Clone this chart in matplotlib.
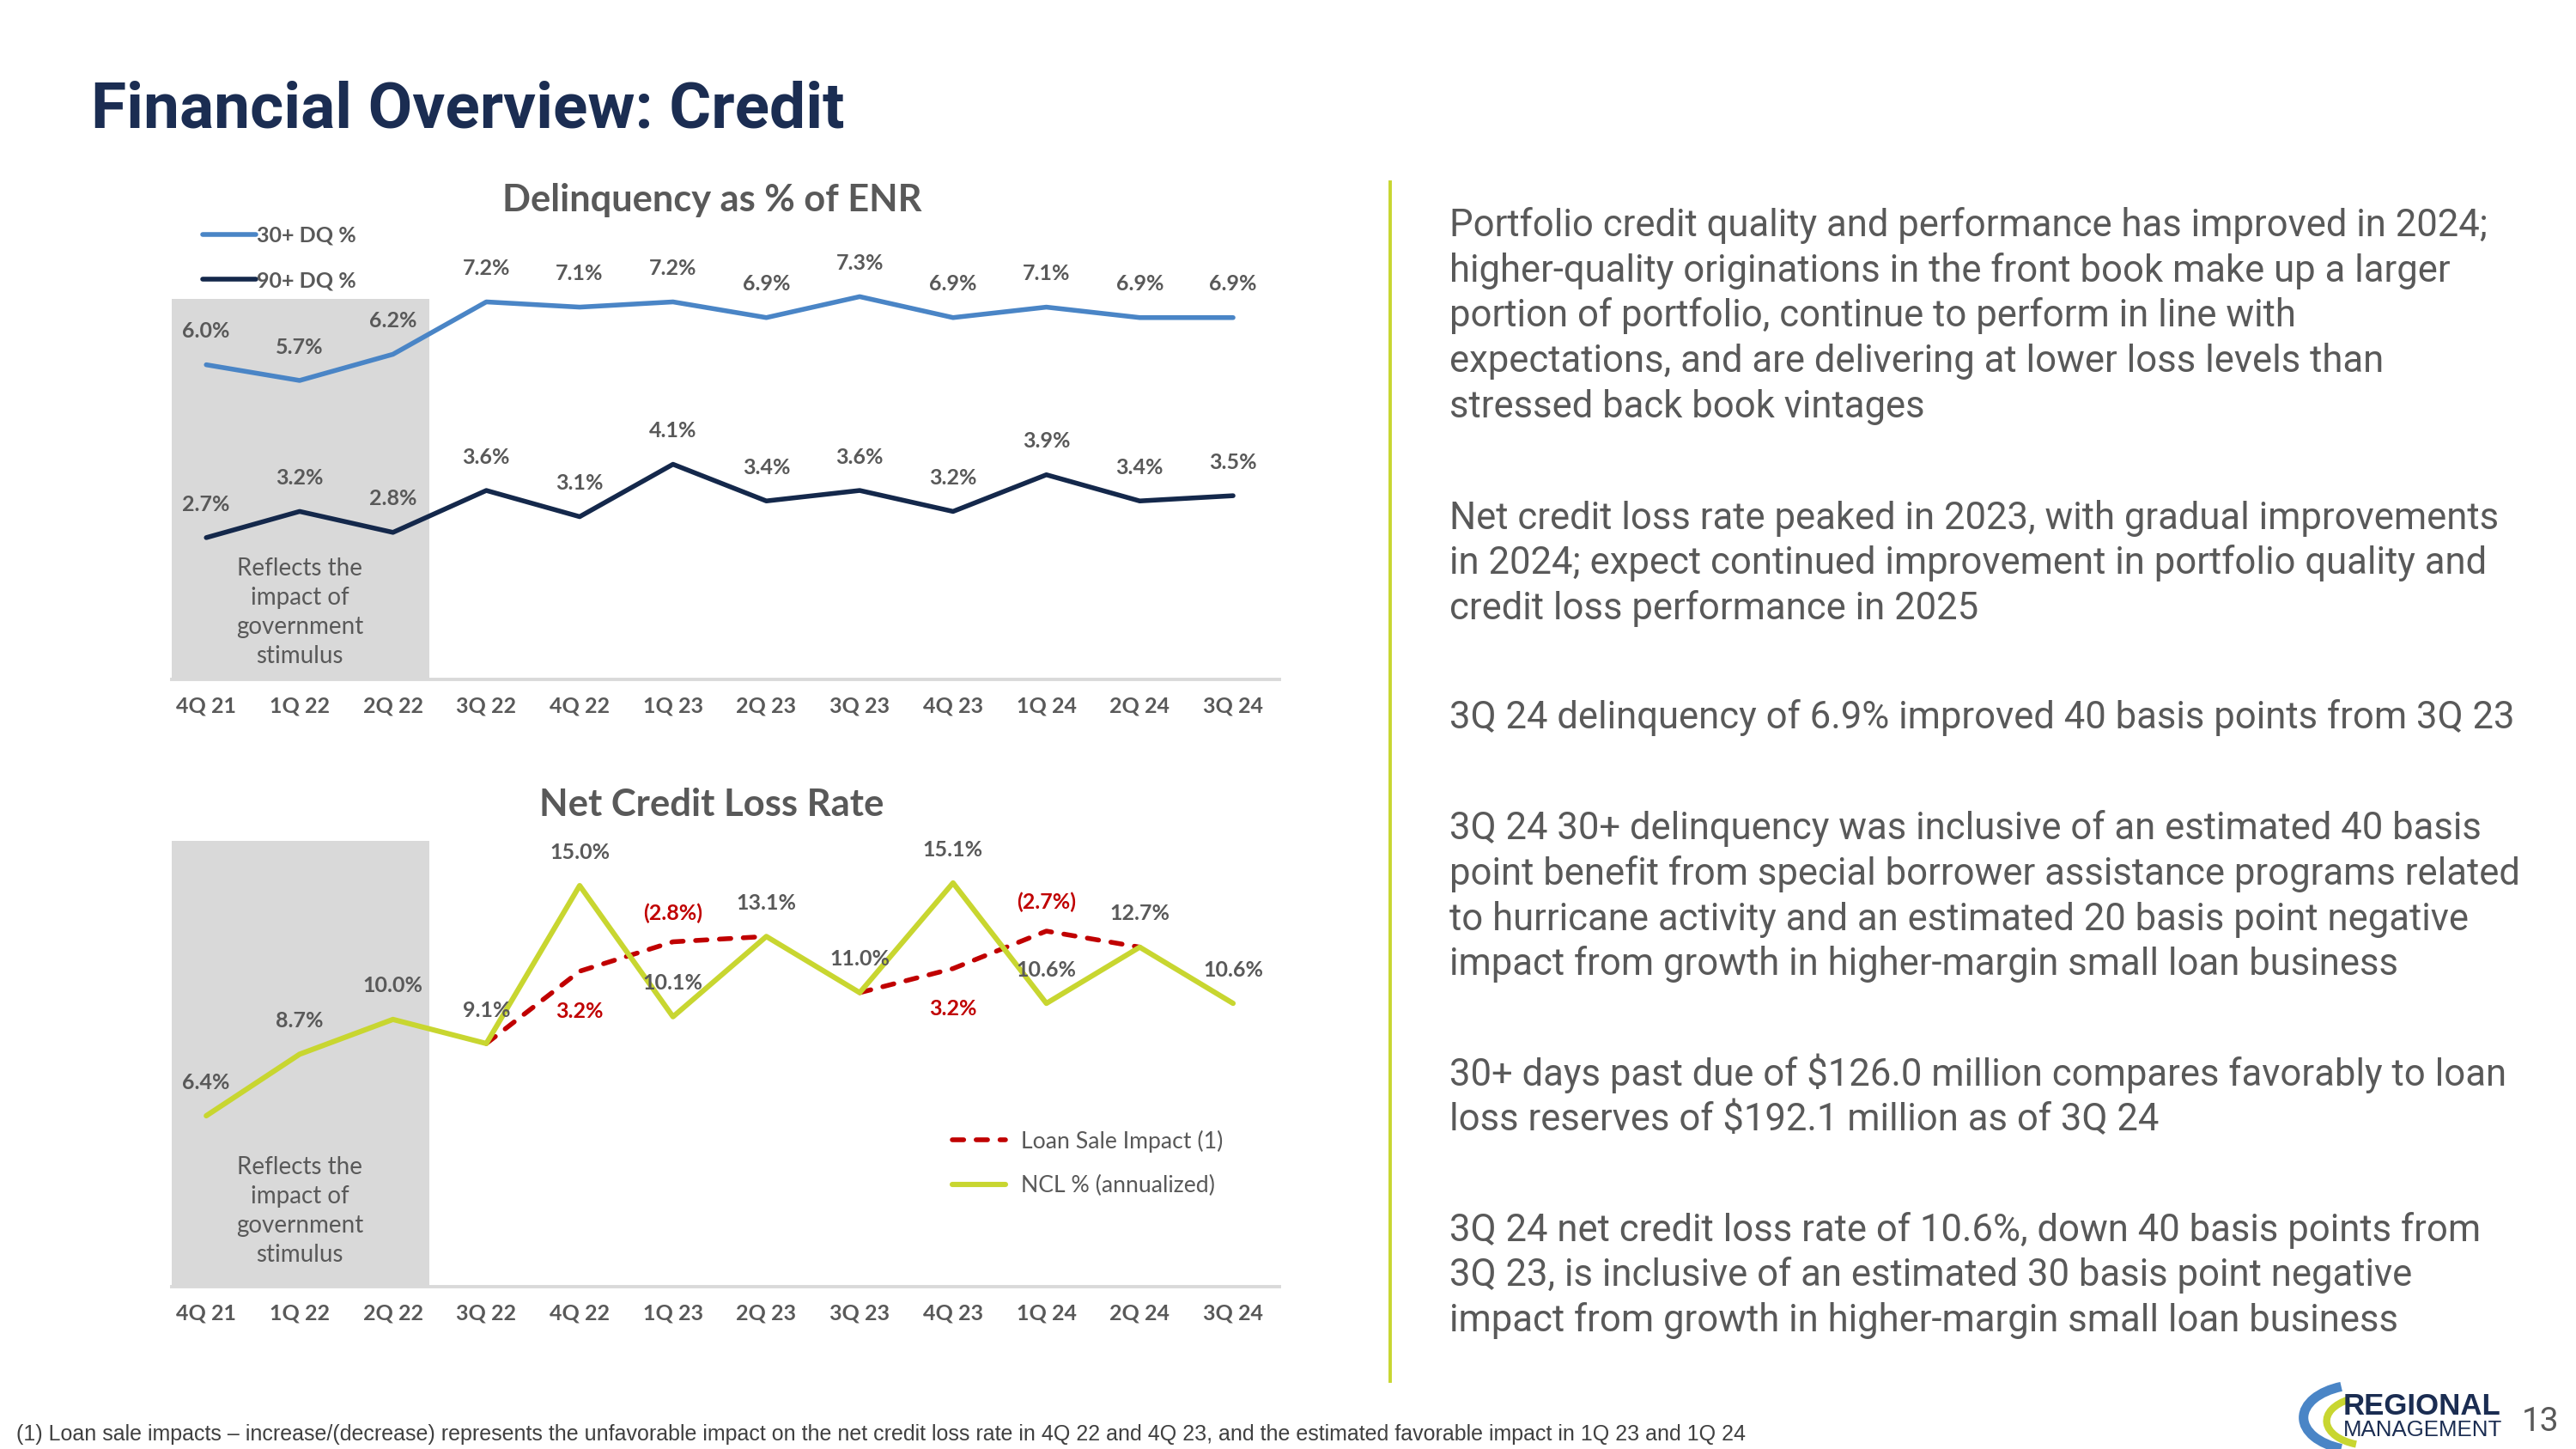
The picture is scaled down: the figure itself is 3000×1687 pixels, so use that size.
import matplotlib
matplotlib.use('Agg')
import matplotlib.pyplot as plt
from matplotlib.patches import Rectangle, Arc
import numpy as np

# ---- data ----
quarters = ['4Q 21', '1Q 22', '2Q 22', '3Q 22', '4Q 22', '1Q 23', '2Q 23', '3Q 23', '4Q 23', '1Q 24', '2Q 24', '3Q 24']
dq30 = [6.0, 5.7, 6.2, 7.2, 7.1, 7.2, 6.9, 7.3, 6.9, 7.1, 6.9, 6.9]
dq90 = [2.7, 3.2, 2.8, 3.6, 3.1, 4.1, 3.4, 3.6, 3.2, 3.9, 3.4, 3.5]
ncl = [6.4, 8.7, 10.0, 9.1, 15.0, 10.1, 13.1, 11.0, 15.1, 10.6, 12.7, 10.6]
# NCL adjusted for loan sale impact, two separate segments
adj_a = [None, None, None, 9.1, 11.8, 12.9, 13.1, None, None, None, None, None]
adj_b = [None, None, None, None, None, None, None, 11.0, 11.9, 13.3, 12.7, None]
impact_labels = {4: ('3.2%', 'below'), 5: ('(2.8%)', 'above'), 8: ('3.2%', 'below'), 9: ('(2.7%)', 'above')}

bullets = [
    ['Portfolio credit quality and performance has improved in 2024;',
     'higher-quality originations in the front book make up a larger',
     'portion of portfolio, continue to perform in line with',
     'expectations, and are delivering at lower loss levels than',
     'stressed back book vintages'],
    ['Net credit loss rate peaked in 2023, with gradual improvements',
     'in 2024; expect continued improvement in portfolio quality and',
     'credit loss performance in 2025'],
    ['3Q 24 delinquency of 6.9% improved 40 basis points from 3Q 23'],
    ['3Q 24 30+ delinquency was inclusive of an estimated 40 basis',
     'point benefit from special borrower assistance programs related',
     'to hurricane activity and an estimated 20 basis point negative',
     'impact from growth in higher-margin small loan business'],
    ['30+ days past due of $126.0 million compares favorably to loan',
     'loss reserves of $192.1 million as of 3Q 24'],
    ['3Q 24 net credit loss rate of 10.6%, down 40 basis points from',
     '3Q 23, is inclusive of an estimated 30 basis point negative',
     'impact from growth in higher-margin small loan business'],
]
bullet_tops = [136, 313, 434, 501, 650, 744]

footnote = ('(1) Loan sale impacts \u2013 increase/(decrease) represents the unfavorable impact on the net credit '
            'loss rate in 4Q 22 and 4Q 23, and the estimated favorable impact in 1Q 23 and 1Q 24')

GRAY = '#595959'
NAVY = '#14284b'
BLUE = '#4a85c6'
LIME = '#c8d630'
RED = '#c00000'
SHADE = '#d9d9d9'
CH = ['Lato', 'DejaVu Sans']
TX = ['Roboto', 'DejaVu Sans']

W, H = 1560.0, 877.0   # layout grid used for placement


def fx(x):
    return x / W


def fy(y):
    return 1 - y / H


fig = plt.figure(figsize=(15, 8.435), dpi=200)
fig.patch.set_facecolor('white')

x = np.arange(len(quarters))


def style_axis(ax, ymax):
    ax.set_xlim(-0.37, 11.5)
    ax.set_ylim(0, ymax)
    for s in ['top', 'right', 'left']:
        ax.spines[s].set_visible(False)
    ax.spines['bottom'].set_color(SHADE)
    ax.spines['bottom'].set_linewidth(1.4)
    ax.set_yticks([])
    ax.set_xticks(x)
    ax.set_xticklabels(quarters, fontsize=9, fontweight='bold', color=GRAY, family=CH)
    ax.tick_params(axis='x', length=0, pad=7)
    ax.patch.set_alpha(0)


def labels(ax, vals, dy=14, color=GRAY):
    for i, v in enumerate(vals):
        ax.annotate(f'{v:.1f}%', (i, v), xytext=(0, dy), textcoords='offset points',
                    ha='center', va='center', fontsize=9, fontweight='bold', color=color,
                    family=CH, annotation_clip=False)


stimulus = 'Reflects the\nimpact of\ngovernment\nstimulus'

# ---- top chart: delinquency ----
ax1 = fig.add_axes([fx(104), fy(411), fx(775) - fx(104), fy(141.5) - fy(411)])
style_axis(ax1, 8.5)
ax1.add_patch(Rectangle((-0.37, 0), 2.76, 7.26, color=SHADE, lw=0, zorder=0))
ax1.plot(x, dq30, color=BLUE, lw=2.0, label='30+ DQ %', solid_capstyle='round', zorder=3)
ax1.plot(x, dq90, color=NAVY, lw=2.0, label='90+ DQ %', solid_capstyle='round', zorder=3)
labels(ax1, dq30)
labels(ax1, dq90)
ax1.text(1, 1.27, stimulus, ha='center', va='center',
         fontsize=10, color=GRAY, family=CH, linespacing=1.38)
ax1.legend(loc='upper left', bbox_to_anchor=(fx(116), fy(130)), bbox_transform=fig.transFigure,
           frameon=False, borderpad=0, handlelength=2.5, handletextpad=0.05, labelspacing=1.18,
           prop={'family': CH, 'weight': 'bold', 'size': 9}, labelcolor=GRAY)
fig.text(fx(431), fy(121), 'Delinquency as % of ENR', ha='center', va='center',
         fontsize=15.6, fontweight='bold', color=GRAY, family=CH)

# ---- bottom chart: net credit loss ----
ax2 = fig.add_axes([fx(104), fy(779), fx(775) - fx(104), fy(495.5) - fy(779)])
style_axis(ax2, 17.5)
ax2.add_patch(Rectangle((-0.37, 0), 2.76, 16.67, color=SHADE, lw=0, zorder=0))
adj_a_arr = np.array([np.nan if v is None else v for v in adj_a])
adj_b_arr = np.array([np.nan if v is None else v for v in adj_b])
ax2.plot(x, adj_a_arr, color=RED, lw=2.0, dashes=(2.4, 2.6), dash_capstyle='round',
         label='Loan Sale Impact (1)', zorder=2)
ax2.plot(x, adj_b_arr, color=RED, lw=2.0, dashes=(2.4, 2.6), dash_capstyle='round', zorder=2)
ax2.plot(x, ncl, color=LIME, lw=2.2, label='NCL % (annualized)', solid_capstyle='round', zorder=3)
labels(ax2, ncl)
for i, (txt, pos) in impact_labels.items():
    v = adj_a_arr[i] if not np.isnan(adj_a_arr[i]) else adj_b_arr[i]
    dy = 12 if pos == 'above' else -17
    ax2.annotate(txt, (i, v), xytext=(0, dy), textcoords='offset points', ha='center', va='center',
                 fontsize=9, fontweight='bold', color=RED, family=CH, annotation_clip=False)
ax2.text(1, 2.85, stimulus, ha='center', va='center',
         fontsize=10, color=GRAY, family=CH, linespacing=1.38)
ax2.legend(loc='upper left', bbox_to_anchor=(fx(570), fy(677)), bbox_transform=fig.transFigure,
           frameon=False, borderpad=0, handlelength=2.3, handletextpad=0.7, labelspacing=1.0,
           prop={'family': CH, 'size': 9.6}, labelcolor=GRAY)
fig.text(fx(431), fy(487), 'Net Credit Loss Rate', ha='center', va='center',
         fontsize=15.7, fontweight='bold', color=GRAY, family=CH)

# ---- page title, separator, commentary ----
fig.text(fx(55), fy(77), 'Financial Overview: Credit', ha='left', va='baseline',
         fontsize=27, fontweight='bold', color='#1b2d52', family=TX)
fig.add_artist(plt.Line2D([fx(842), fx(842)], [fy(110), fy(836)], color=LIME, lw=1.4))

for top, para in zip(bullet_tops, bullets):
    for k, line in enumerate(para):
        fig.text(fx(878), fy(top + k * 27.4 + 7), line, ha='left', va='baseline',
                 fontsize=15.7, color=GRAY, family=TX)

fig.text(fx(10), fy(872), footnote, ha='left', va='baseline', fontsize=9.0, color='#404040',
         family=['Liberation Sans', 'DejaVu Sans'])

# ---- logo and page number ----
fig.add_artist(Arc((fx(1430), fy(858)), fx(70), 40 / H, theta1=110, theta2=250,
                   transform=fig.transFigure, color=BLUE, lw=4))
fig.add_artist(Arc((fx(1436), fy(860)), fx(54), 30 / H, theta1=120, theta2=250,
                   transform=fig.transFigure, color=LIME, lw=3))
fig.text(fx(1419), fy(856), 'REGIONAL', ha='left', va='baseline', fontsize=12.5, fontweight='bold',
         color='#1b2d52', family=['Liberation Sans', 'DejaVu Sans'])
fig.text(fx(1419), fy(869), 'MANAGEMENT', ha='left', va='baseline', fontsize=9.3,
         color='#1b2d52', family=['Liberation Sans', 'DejaVu Sans'])
fig.text(fx(1527), fy(866), '13', ha='left', va='baseline', fontsize=14, color=GRAY, family=TX)

fig.savefig('out.png', dpi=200, facecolor='white')
